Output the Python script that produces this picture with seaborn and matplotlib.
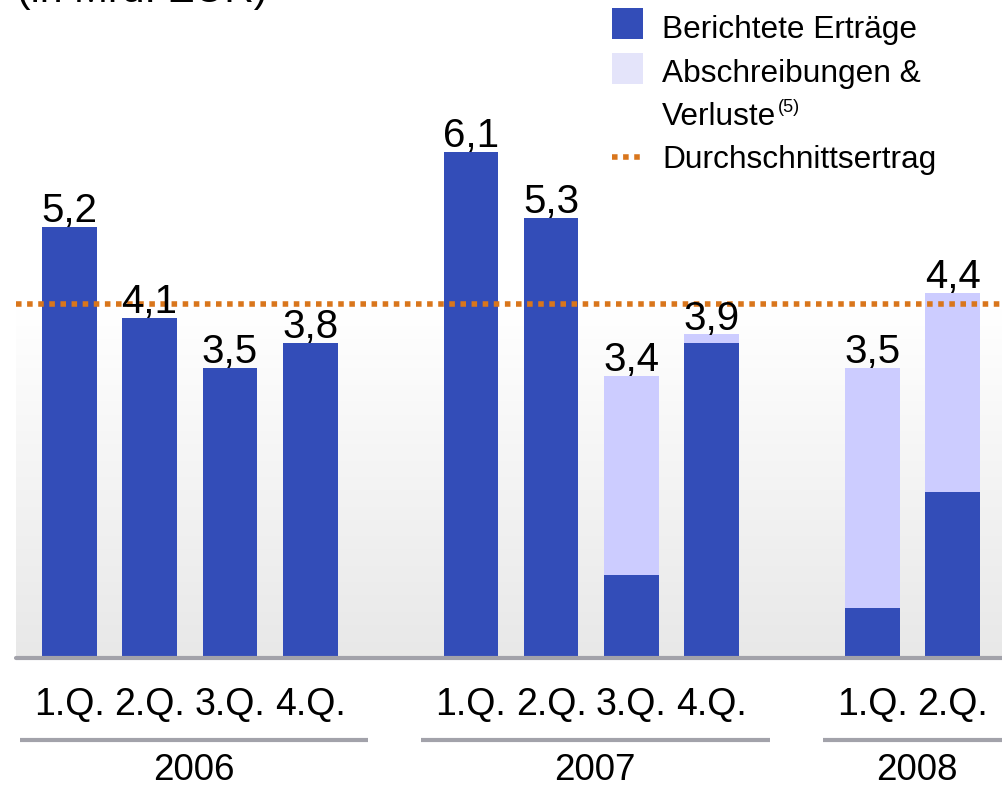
"""
Quarterly reported revenues 2006-2008 (in Mrd. EUR), with write-downs stacked on top.
"""
import numpy as np
import pandas as pd
import matplotlib
matplotlib.use('Agg')
import matplotlib.pyplot as plt
from matplotlib.patches import Rectangle
from matplotlib.lines import Line2D
import matplotlib.transforms as mtransforms
import seaborn as sns

# data
quarters = ['1.Q.', '2.Q.', '3.Q.', '4.Q.', '1.Q.', '2.Q.', '3.Q.', '4.Q.', '1.Q.', '2.Q.']
years = ['2006', '2006', '2006', '2006', '2007', '2007', '2007', '2007', '2008', '2008']
positions = [0, 1, 2, 3, 5, 6, 7, 8, 10, 11]
reported = [5.2, 4.1, 3.5, 3.8, 6.1, 5.3, 1.0, 3.8, 0.6, 2.0]
writedowns = [0.0, 0.0, 0.0, 0.0, 0.0, 0.0, 2.4, 0.1, 2.9, 2.4]
totals = [5.2, 4.1, 3.5, 3.8, 6.1, 5.3, 3.4, 3.9, 3.5, 4.4]
average = 4.27

DARK = '#334db8'
LIGHT = '#ccccff'
ORANGE = '#d9761c'
GREY = '#a2a2aa'

sns.set_style('white')
plt.rcParams['font.family'] = ['Liberation Sans', 'DejaVu Sans']
plt.rcParams['text.color'] = 'black'
plt.rcParams['xtick.color'] = 'black'

df = pd.DataFrame({'pos': positions, 'reported': reported,
                   'total': totals, 'quarter': quarters, 'year': years})

fig = plt.figure(figsize=(10.02, 7.89), dpi=100)
ax = fig.add_axes([16 / 1002, 131 / 789, 986 / 1002, 658 / 789])
ax.set_xlim(-0.664, 11.615)
ax.set_ylim(0, 7.93)

# grey gradient background
grad = np.ones((200, 2, 3))
yy = np.linspace(7.93, 0, 200)
shade = np.clip((4.2 - yy) / 4.2, 0, 1)
grad[:, :, :] = (1 - shade * (1 - 232 / 255))[:, None, None]
ax.imshow(grad, extent=(-0.664, 11.615, 0, 7.93), aspect='auto', zorder=0)

# stacked bars: totals in light colour, reported revenues on top in dark
sns.barplot(data=df, x='pos', y='total', native_scale=True, color=LIGHT,
            saturation=1, width=0.68, errorbar=None, ax=ax, zorder=2)
sns.barplot(data=df, x='pos', y='reported', native_scale=True, color=DARK,
            saturation=1, width=0.68, errorbar=None, ax=ax, zorder=3)
for patch in ax.patches:
    patch.set_edgecolor('none')

ax.set_xlim(-0.664, 11.615)
ax.set_ylim(0, 7.93)

# average line
ax.axhline(average, color=ORANGE, lw=4, dashes=(1.0, 1.0), zorder=4)
ax.axhline(0, color=GREY, lw=3, zorder=5, clip_on=False)

for p, t in zip(positions, totals):
    ax.annotate('{:.1f}'.format(t).replace('.', ','), xy=(p, t),
                xytext=(0, 3.5), textcoords='offset points',
                ha='center', va='baseline', fontsize=29, zorder=6)

ax.set_xticks(positions, quarters, fontsize=27)
ax.tick_params(axis='x', length=0, pad=21, colors='black')
ax.set_yticks([])
ax.set_xlabel('')
ax.set_ylabel('')
sns.despine(ax=ax, left=True, bottom=True)

# year groups underneath
trans = mtransforms.blended_transform_factory(ax.transData, ax.transAxes)
for year in ['2006', '2007', '2008']:
    grp = df[df['year'] == year]
    x0 = grp['pos'].min() - 0.62
    x1 = grp['pos'].max() + 0.72
    ax.plot([x0, x1], [-0.1246, -0.1246], color=GREY, lw=3,
            transform=trans, clip_on=False, solid_capstyle='butt')
    ax.text((x0 + x1) / 2, -0.171, year, transform=trans, ha='center',
            va='center', fontsize=26.5)

# title (cut off at the top, as in the source)
fig.text(17 / 1002, 1 - 2.5 / 789, '(in Mrd. EUR)', fontsize=29.5,
         ha='left', va='baseline')

# legend
fig.add_artist(Rectangle((612 / 1002, 1 - 39 / 789), 31 / 1002, 31 / 789,
                         transform=fig.transFigure, facecolor=DARK, edgecolor='none'))
fig.add_artist(Rectangle((612 / 1002, 1 - 84 / 789), 31 / 1002, 31 / 789,
                         transform=fig.transFigure, facecolor='#e4e4fa', edgecolor='none'))
fig.add_artist(Line2D([612 / 1002, 645 / 1002], [1 - 157 / 789, 1 - 157 / 789],
                      transform=fig.transFigure, color=ORANGE, lw=4, dashes=(1.0, 1.0)))
lx = 662 / 1002
fig.text(lx, 1 - 37.7 / 789, 'Berichtete Erträge', fontsize=22.8, va='baseline')
fig.text(lx, 1 - 81.7 / 789, 'Abschreibungen &', fontsize=22.8, va='baseline')
verl = fig.text(lx, 1 - 125 / 789, 'Verluste', fontsize=22.8, va='baseline')
ax.annotate('(5)', xy=(1, 1), xycoords=verl, xytext=(1, 2),
            textcoords='offset points', ha='left', va='top', fontsize=13,
            annotation_clip=False)
fig.text(lx, 1 - 168.3 / 789, 'Durchschnittsertrag', fontsize=22.8, va='baseline')

fig.savefig('out.png', dpi=100)
